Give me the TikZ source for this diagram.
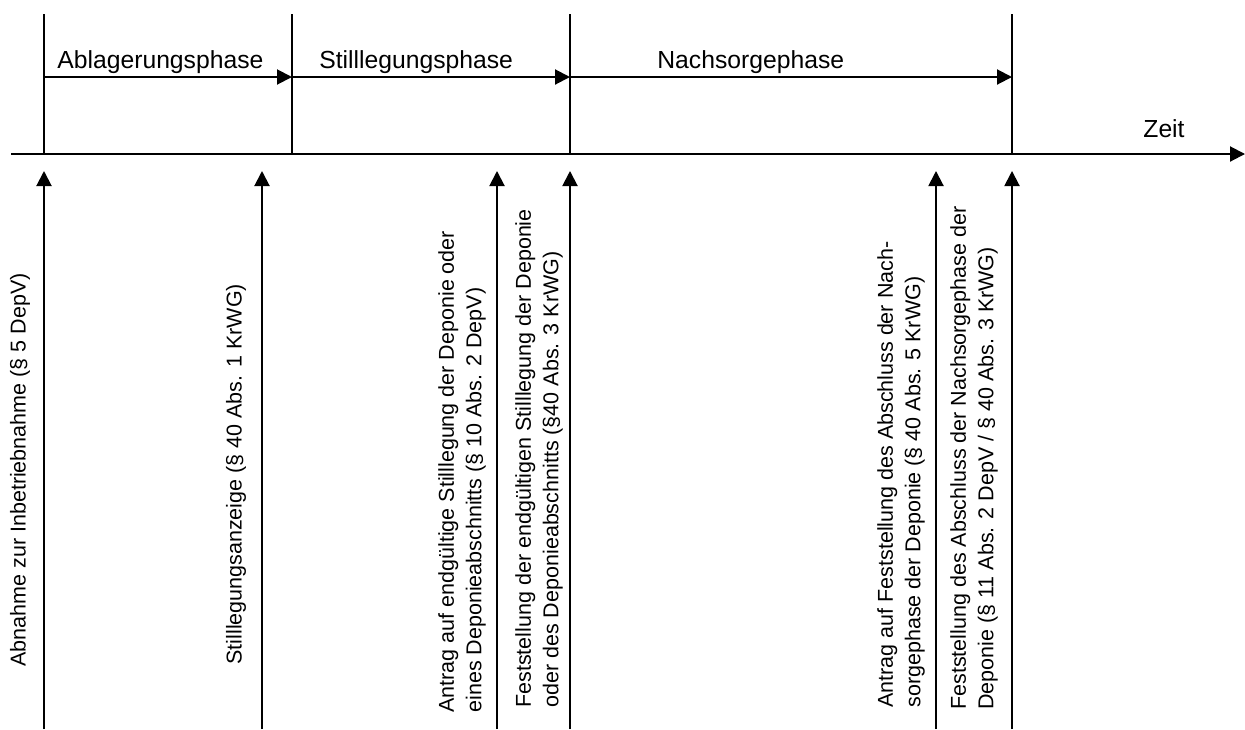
\documentclass[tikz,border=0pt]{standalone}
\usepackage{fontspec}
\setmainfont{Liberation Sans}
\usepackage{tikz}
\usetikzlibrary{arrows.meta,positioning}

\begin{document}
\begin{tikzpicture}[x=0.5pt, y=-0.5pt,
    label/.style={font=\fontsize{12.35}{13.9}\selectfont, inner sep=0pt},
    phase/.style={label, anchor=base west},
    event/.style={label, font=\fontsize{10.75}{13.8}\selectfont, rotate=90, anchor=west, align=left},
    line/.style={line width=1pt},
    arrow/.style={line, -{Triangle[length=7.5pt,width=7.5pt]}}]
    \useasboundingbox (0,0) rectangle (1245,729);

    % time axis
    \coordinate (start) at (11,154);
    \coordinate (end) at (1245,154);
    \draw[arrow] (start) -- (end);
    \node[phase] (zeit) at (1143,137) {Zeit};

    % phase boundaries
    \coordinate (b1top) at (44,14);    \coordinate (b1) at (44,154);
    \coordinate (b2top) at (292,14);   \coordinate (b2) at (292,154);
    \coordinate (b3top) at (570,14);   \coordinate (b3) at (570,154);
    \coordinate (b4top) at (1012,14);  \coordinate (b4) at (1012,154);
    \draw[line] (b1top) -- (b1);
    \draw[line] (b2top) -- (b2);
    \draw[line] (b3top) -- (b3);
    \draw[line] (b4top) -- (b4);

    % phases
    \coordinate (p1) at (44,77);
    \coordinate (p2) at (292,77);
    \coordinate (p3) at (570,77);
    \coordinate (p4) at (1012,77);
    \draw[arrow] (p1) -- (p2);
    \draw[arrow] (p2) -- (p3);
    \draw[arrow] (p3) -- (p4);
    \node[phase] (ablagerung) at (57,68) {Ablagerungsphase};
    \node[phase] (stilllegung) at (319,68) {Stilllegungsphase};
    \node[phase] (nachsorge) at (657,68) {Nachsorgephase};

    % events
    \coordinate (e1) at (44,729);   \coordinate (e1tip) at (44,171);
    \coordinate (e2) at (262,729);  \coordinate (e2tip) at (262,171);
    \coordinate (e3) at (497,729);  \coordinate (e3tip) at (497,171);
    \coordinate (e4) at (570,729);  \coordinate (e4tip) at (570,171);
    \coordinate (e5) at (936,729);  \coordinate (e5tip) at (936,171);
    \coordinate (e6) at (1012,729); \coordinate (e6tip) at (1012,171);
    \draw[arrow] (e1) -- (e1tip);
    \draw[arrow] (e2) -- (e2tip);
    \draw[arrow] (e3) -- (e3tip);
    \draw[arrow] (e4) -- (e4tip);
    \draw[arrow] (e5) -- (e5tip);
    \draw[arrow] (e6) -- (e6tip);

    \node[event] (abnahme) at (20,667) {Abnahme zur Inbetriebnahme (§ 5 DepV)};
    \node[event] (anzeige) at (236,665) {Stilllegungsanzeige (§ 40 Abs. 1 KrWG)};
    \node[event] (antrag1) at (462,713) {Antrag auf endgültige Stilllegung der Deponie oder\\eines Deponieabschnitts (§ 10 Abs. 2 DepV)};
    \node[event] (fest1) at (539,708) {Feststellung der endgültigen Stilllegung der Deponie\\oder des Deponieabschnitts (§40 Abs. 3 KrWG)};
    \node[event] (antrag2) at (901,708) {Antrag auf Feststellung des Abschluss der Nach-\\sorgephase der Deponie (§ 40 Abs. 5 KrWG)};
    \node[event] (fest2) at (974,710) {Feststellung des Abschluss der Nachsorgephase der\\Deponie (§ 11 Abs. 2 DepV / § 40 Abs. 3 KrWG)};
\end{tikzpicture}
\end{document}
